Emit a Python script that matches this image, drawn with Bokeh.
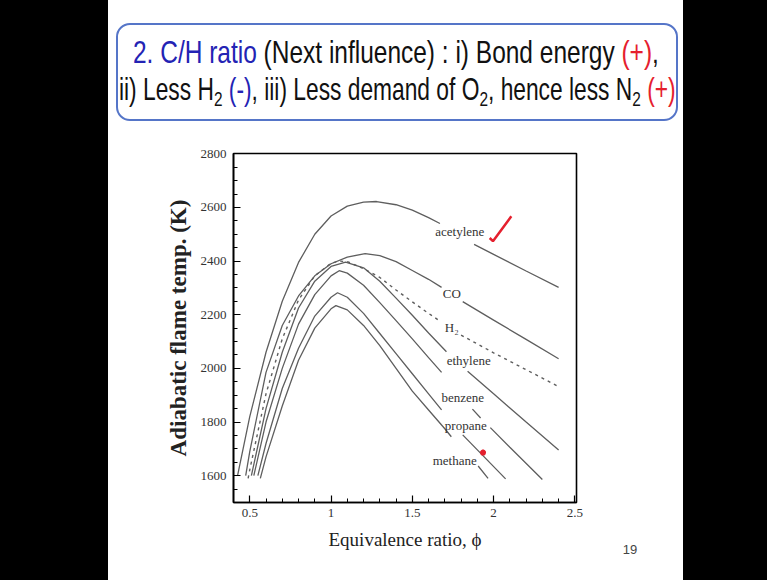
from bokeh.plotting import figure
from bokeh.models import Range1d, Spacer, Div, SingleIntervalTicker, NumeralTickFormatter
from bokeh.layouts import row, column
from bokeh.embed import file_html
from bokeh.resources import INLINE
from bokeh.core.properties import value

nan = float("nan")

# ---------------- data ----------------
phi_acetylene = [0.425, 0.5, 0.6, 0.7, 0.8, 0.9, 1.0, 1.1, 1.2, 1.28, 1.4, 1.5, 1.6, 1.67, nan, 1.88, 2.0, 2.2, 2.4]
T_acetylene = [1600, 1820, 2060, 2250, 2395, 2500, 2568, 2605, 2620, 2622, 2610, 2590, 2562, 2540, nan, 2462, 2425, 2363, 2302]

phi_co = [0.475, 0.5, 0.6, 0.7, 0.8, 0.9, 1.0, 1.1, 1.21, 1.3, 1.4, 1.5, 1.6, 1.68, nan, 1.81, 2.0, 2.2, 2.4]
T_co = [1600, 1690, 1985, 2160, 2270, 2345, 2390, 2415, 2428, 2420, 2398, 2365, 2332, 2302, nan, 2249, 2180, 2108, 2036]

phi_h2 = [0.49, 0.5, 0.6, 0.7, 0.8, 0.9, 1.0, 1.05, 1.1, 1.2, 1.3, 1.4, 1.5, 1.6, 1.67, nan, 1.80, 2.0, 2.2, 2.4]
T_h2 = [1590, 1622, 1905, 2110, 2255, 2345, 2392, 2400, 2398, 2372, 2339, 2292, 2248, 2205, 2176, nan, 2124, 2058, 1995, 1932]

phi_ethylene = [0.51, 0.6, 0.7, 0.8, 0.9, 1.0, 1.09, 1.2, 1.3, 1.4, 1.5, 1.6, 1.71, nan, 1.84, 2.0, 2.2, 2.4]
T_ethylene = [1600, 1850, 2060, 2225, 2325, 2380, 2396, 2375, 2325, 2262, 2198, 2132, 2062, nan, 1989, 1905, 1800, 1696]

phi_benzene = [0.525, 0.6, 0.7, 0.8, 0.9, 1.0, 1.05, 1.1, 1.2, 1.3, 1.4, 1.5, 1.6, 1.68, nan, 1.87, 1.92, nan, 1.98, 2.1, 2.3]
T_benzene = [1600, 1800, 2000, 2165, 2275, 2345, 2364, 2355, 2310, 2245, 2178, 2110, 2040, 1985, nan, 1848, 1815, nan, 1779, 1706, 1586]

phi_propane = [0.55, 0.6, 0.7, 0.8, 0.9, 1.0, 1.04, 1.1, 1.2, 1.3, 1.4, 1.5, 1.6, 1.68, nan, 1.81, 2.074]
T_propane = [1600, 1720, 1925, 2075, 2195, 2265, 2282, 2265, 2205, 2130, 2055, 1980, 1905, 1845, nan, 1752, 1588]

phi_methane = [0.565, 0.6, 0.7, 0.8, 0.9, 1.0, 1.03, 1.1, 1.2, 1.3, 1.4, 1.5, 1.6, 1.7, 1.74, nan, 1.905, 1.966]
T_methane = [1590, 1670, 1860, 2030, 2150, 2222, 2234, 2218, 2160, 2085, 2000, 1915, 1845, 1775, 1745, nan, 1636, 1590]

label_names = ["acetylene", "CO", "H\u2082", "ethylene", "benzene", "propane", "methane"]
label_phi = [1.792, 1.743, 1.743, 1.847, 1.81, 1.829, 1.761]
label_T = [2511, 2279, 2152, 2031, 1890, 1787, 1658]

check_phi = [1.976, 1.996, 2.109]
check_T = [2486, 2474, 2567]
star_phi = [1.935]
star_T = [1686]

x_tick_interval = 0.5
y_tick_interval = 200

title_heading = "2. C/H ratio"
title_l1_rest = " (Next influence) : i) Bond energy "
title_l1_plus = "(+)"
title_l2_a = "ii) Less H"
title_l2_minus = "(-)"
title_l2_b = ", iii) Less demand of O"
title_l2_c = ", hence less N"
title_l2_plus = "(+)"
sub_two = "2"
page_number = "19"

# ---------------- styles ----------------
BLUE = "#2323b4"
RED = "#e5202e"
BLACK = "#111111"
LINE = "#5e5e5e"
SERIF = "Liberation Serif"
WHITE_BG = {"background-color": "white"}

# ---------------- title (inline SVG text in a Div) ----------------
sub = f'<tspan dy="6" font-size="21">{sub_two}</tspan><tspan dy="-6">'
title_svg = (
    '<svg xmlns="http://www.w3.org/2000/svg" width="575" height="133" style="display:block">'
    '<rect x="0" y="0" width="575" height="133" fill="white"/>'
    '<rect x="9" y="24" width="560" height="96" rx="13" ry="13" fill="white" stroke="#5575c8" stroke-width="2"/>'
    f'<text x="0" y="0" transform="translate(25,63) scale(0.79,1)" font-family="Liberation Sans" '
    f'font-size="31" fill="{BLACK}" xml:space="preserve">'
    f'<tspan fill="{BLUE}">{title_heading}</tspan>{title_l1_rest}'
    f'<tspan fill="{RED}">{title_l1_plus}</tspan>,</text>'
    f'<text x="0" y="0" transform="translate(11,100) scale(0.735,1)" font-family="Liberation Sans" '
    f'font-size="31" fill="{BLACK}" xml:space="preserve">'
    f'{title_l2_a}{sub} </tspan><tspan fill="{BLUE}">{title_l2_minus}</tspan>'
    f'{title_l2_b}{sub}{title_l2_c}</tspan>{sub} </tspan>'
    f'<tspan fill="{RED}">{title_l2_plus}</tspan></text>'
    '</svg>'
)
title_div = Div(text=title_svg, width=575, height=133, margin=0, styles=WHITE_BG)

# ---------------- chart ----------------
p = figure(width=492, height=447, x_range=Range1d(0.4, 2.51), y_range=Range1d(1500, 2801),
           output_backend="svg", toolbar_location=None, margin=0,
           min_border_left=125, min_border_right=24, min_border_top=20, min_border_bottom=78)
p.grid.visible = False
p.background_fill_color = "white"
p.border_fill_color = "white"
p.outline_line_color = "black"
p.outline_line_width = 1.6

for xs, ys in [(phi_acetylene, T_acetylene), (phi_co, T_co), (phi_ethylene, T_ethylene),
               (phi_benzene, T_benzene), (phi_propane, T_propane), (phi_methane, T_methane)]:
    p.line(xs, ys, line_color=LINE, line_width=1.3)
p.line(phi_h2, T_h2, line_color=LINE, line_width=1.4, line_dash="3 4")

p.text(x=label_phi, y=label_T, text=label_names, text_align="center", text_baseline="middle",
       text_font=value(SERIF), text_font_size="13px", text_color="#333333")

p.line(check_phi, check_T, line_color=RED, line_width=2.5)
p.scatter(star_phi, star_T, marker="asterisk", size=6, line_color=RED, line_width=2)

p.xaxis.ticker = SingleIntervalTicker(interval=x_tick_interval, num_minor_ticks=5)
p.yaxis.ticker = SingleIntervalTicker(interval=y_tick_interval, num_minor_ticks=4)
p.xaxis.formatter = NumeralTickFormatter(format="0.[0]")
p.yaxis.formatter = NumeralTickFormatter(format="0")

for ax in (p.xaxis[0], p.yaxis[0]):
    ax.axis_line_color = "black"
    ax.axis_line_width = 1.6
    ax.major_tick_in = 7
    ax.major_tick_out = 0
    ax.minor_tick_in = 4
    ax.minor_tick_out = 0
    ax.major_tick_line_width = 1.2
    ax.minor_tick_line_width = 1
    ax.major_label_text_font = SERIF
    ax.major_label_text_font_size = "13px"
    ax.major_label_text_color = "#333333"
    ax.axis_label_text_font = SERIF
    ax.axis_label_text_font_style = "normal"
    ax.axis_label_text_color = "#222222"

p.yaxis.axis_label = "Adiabatic flame temp. (K)"
p.yaxis.axis_label_text_font_size = "23px"
p.yaxis.axis_label_text_font_style = "bold"
p.yaxis.major_label_standoff = 7
p.yaxis.axis_label_standoff = 7
p.xaxis.axis_label = "Equivalence ratio, \u03d5"
p.xaxis.axis_label_text_font_size = "19px"
p.xaxis.major_label_standoff = 6
p.xaxis.axis_label_standoff = 9

side_svg = (
    '<svg xmlns="http://www.w3.org/2000/svg" width="83" height="447" style="display:block">'
    '<rect x="0" y="0" width="83" height="447" fill="white"/>'
    f'<text x="30" y="421" font-family="Liberation Sans" font-size="13" fill="#444444" '
    f'text-anchor="middle">{page_number}</text></svg>'
)
side_div = Div(text=side_svg, width=83, height=447, margin=0, styles=WHITE_BG)

middle = column(title_div, row(p, side_div, styles=WHITE_BG), styles=WHITE_BG)
layout = row(Spacer(width=108, height=580, margin=0),
             middle,
             Spacer(width=84, height=580, margin=0))

html = file_html(layout, INLINE)
head_end = html.find("</head>")
body_at = html.find("<body", head_end if head_end >= 0 else 0)
if body_at >= 0:
    close_at = html.find(">", body_at)
    html = html[:close_at] + ' style="background-color:#000000;"' + html[close_at:]
open("out.html", "w").write(html)
